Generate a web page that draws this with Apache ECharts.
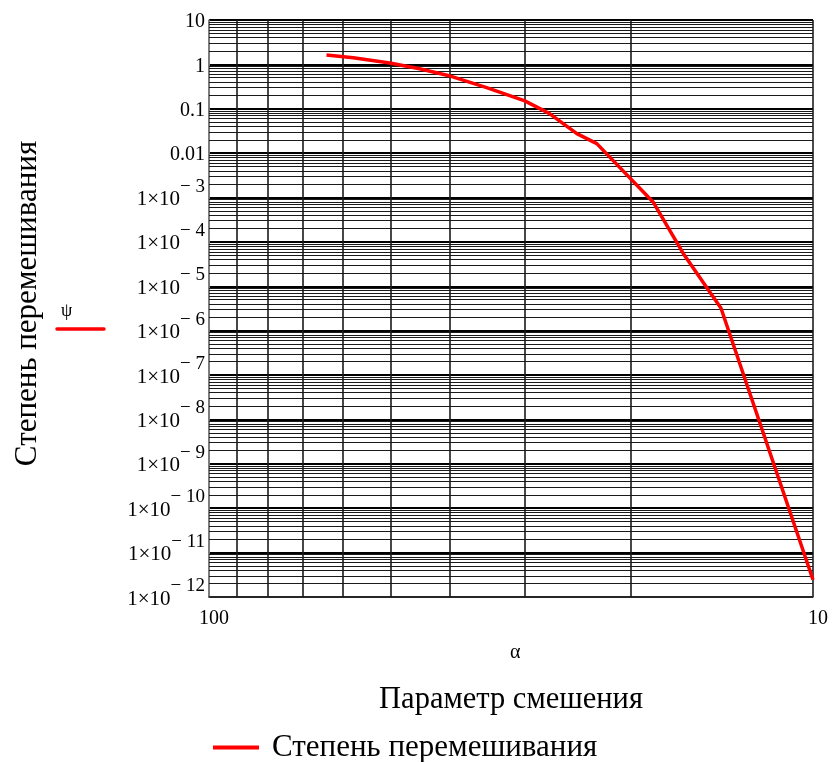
<!DOCTYPE html>
<html>
<head>
<meta charset="utf-8">
<script src="https://cdn.jsdelivr.net/npm/echarts@6/dist/echarts.min.js"></script>
<style>
  html, body { margin: 0; padding: 0; background: #ffffff; }
  #chart { width: 832px; height: 762px; }
</style>
</head>
<body>
<div id="chart"></div>
<script>
// Mixing parameter α and the resulting degree of mixing ψ
const alphaValues = [63.9, 57.7, 50.2, 44.8, 40.2, 34.7, 30.0, 27.3, 24.6, 22.8, 18.4, 16.4, 14.2, 10.0];
const psiValues   = [1.63, 1.41, 1.07, 0.80, 0.564, 0.300, 0.151, 0.0776, 0.0275, 0.0164, 7.96e-4, 5.5e-5, 3.2e-6, 2.45e-12];

// Axis ranges and tick labels
const xTicks = [100, 10];
const yDecadeExponents = [1, 0, -1, -2, -3, -4, -5, -6, -7, -8, -9, -10, -11, -12];
const plainYLabels = { '1': '10', '0': '1', '-1': '0.1', '-2': '0.01' };

const seriesName = 'Степень перемешивания';
const xTitle = 'Параметр смешения';
const yTitle = 'Степень перемешивания';

const FONT = '"Liberation Serif", "DejaVu Serif", serif';

// Log-paper grid: lines at 2..9 inside each decade, drawn through the axes
const yMinorLines = [];
yDecadeExponents.forEach(function (e) {
  if (e >= 1) return;
  for (let m = 2; m <= 9; m++) yMinorLines.push({ yAxis: m * Math.pow(10, e) });
});
const xMinorLines = [];
for (let m = 2; m <= 9; m++) {
  xMinorLines.push({ xAxis: m * 10, lineStyle: { color: '#1a1a1a', width: 1.6 } });
}

const chart = echarts.init(document.getElementById('chart'), null, { renderer: 'canvas' });

chart.setOption({
  animation: false,
  backgroundColor: '#ffffff',
  grid: { left: 209, top: 20, right: 19, bottom: 165, containLabel: false },
  xAxis: {
    type: 'log',
    logBase: 10,
    min: Math.min.apply(null, xTicks),
    max: Math.max.apply(null, xTicks),
    inverse: true,
    name: xTitle,
    nameLocation: 'middle',
    nameGap: 87,
    nameTextStyle: { fontFamily: FONT, fontSize: 30.5, color: '#000' },
    axisLine: { show: true, lineStyle: { color: '#333', width: 1.5 } },
    axisTick: { show: false },
    axisLabel: {
      fontFamily: FONT, fontSize: 20, color: '#000', margin: 12,
      padding: [0, 0, 0, 10]
    },
    splitLine: { show: true, lineStyle: { color: '#111', width: 1.5 } }
  },
  yAxis: {
    type: 'log',
    logBase: 10,
    min: Math.pow(10, Math.min.apply(null, yDecadeExponents)),
    max: Math.pow(10, Math.max.apply(null, yDecadeExponents)),
    interval: 1,
    name: yTitle,
    nameLocation: 'middle',
    nameGap: 166,
    nameRotate: 90,
    nameTextStyle: { fontFamily: FONT, fontSize: 31, color: '#000', padding: [0, 0, 0, 10] },
    axisLine: { show: true, lineStyle: { color: '#8c8c8c', width: 1.5 } },
    axisTick: { show: false },
    axisLabel: {
      fontFamily: FONT, fontSize: 20, color: '#000', margin: 4,
      formatter: function (v) {
        const e = Math.round(Math.log10(v));
        if (plainYLabels[e] !== undefined) return '{b|' + plainYLabels[e] + '}';
        return '{x|1×10}{s|− ' + (-e) + '}';
      },
      rich: {
        b: { fontFamily: FONT, fontSize: 20, color: '#000', padding: [4, 0, 0, 0] },
        x: { fontFamily: FONT, fontSize: 21, color: '#000', padding: [4, 0, 0, 0] },
        s: { fontFamily: FONT, fontSize: 19, color: '#000', padding: [0, 0, 22, 0] }
      }
    },
    splitLine: { show: true, lineStyle: { color: '#000', width: 2 } }
  },
  legend: {
    show: true,
    left: 208,
    top: 727,
    itemWidth: 46,
    itemHeight: 4,
    icon: 'rect',
    data: [seriesName],
    textStyle: { fontFamily: FONT, fontSize: 31, color: '#000', padding: [0, 0, 0, 8] }
  },
  graphic: [
    {
      type: 'text', left: 510, top: 643,
      style: { text: 'α', font: '20px ' + FONT, fill: '#000' }
    },
    {
      type: 'text', left: 61, top: 302,
      style: { text: 'ψ', font: '18px ' + FONT, fill: '#000' }
    },
    {
      type: 'line',
      shape: { x1: 57, y1: 329, x2: 104, y2: 329 },
      style: { stroke: '#ff0000', lineWidth: 3.5, lineCap: 'round' }
    }
  ],
  series: [
    {
      name: 'grid',
      type: 'line',
      data: [],
      z: 1,
      silent: true,
      markLine: {
        silent: true,
        precision: 20,
        symbol: ['none', 'none'],
        label: { show: false },
        emphasis: { disabled: true },
        lineStyle: { color: '#1a1a1a', width: 1, type: 'solid' },
        data: yMinorLines.concat(xMinorLines)
      }
    },
    {
      name: seriesName,
      type: 'line',
      z: 5,
      symbol: 'none',
      smooth: false,
      lineStyle: { color: '#ff0000', width: 3.5 },
      itemStyle: { color: '#ff0000' },
      data: alphaValues.map(function (a, i) { return [a, psiValues[i]]; })
    }
  ]
});
</script>
</body>
</html>
